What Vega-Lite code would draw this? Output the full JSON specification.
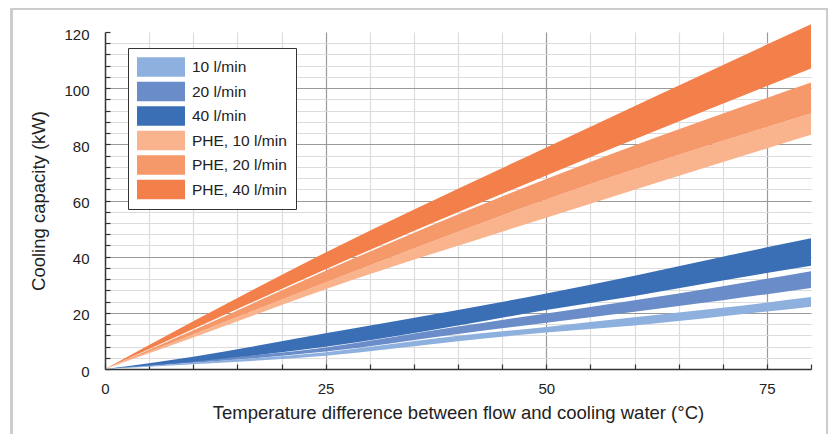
{
  "$schema": "https://vega.github.io/schema/vega-lite/v6.json",
  "width": 706,
  "height": 337,
  "autosize": "none",
  "padding": {"left": 105, "top": 32, "right": 22, "bottom": 65},
  "background": "white",
  "config": {
    "view": {"stroke": null},
    "font": "Liberation Sans",
    "axis": {
      "labelFont": "Liberation Sans",
      "titleFont": "Liberation Sans",
      "labelFontSize": 15,
      "titleFontSize": 18.5,
      "labelColor": "#222222",
      "titleColor": "#222222",
      "titleFontWeight": "normal",
      "domainColor": "#333333",
      "domainWidth": 1.5,
      "tickColor": "#333333",
      "tickWidth": 1.2,
      "tickSize": -5,
      "gridWidth": 1.2,
      "labelOverlap": false
    }
  },
  "data": {
    "values": [
      {"s": "10 l/min", "t": 0, "lo": 0, "hi": 0},
      {"s": "10 l/min", "t": 10, "lo": 1.7, "hi": 2.2},
      {"s": "10 l/min", "t": 25, "lo": 4.7, "hi": 6.0},
      {"s": "10 l/min", "t": 40, "lo": 9.9, "hi": 11.8},
      {"s": "10 l/min", "t": 50, "lo": 13.0, "hi": 15.0},
      {"s": "10 l/min", "t": 60, "lo": 15.5, "hi": 18.4},
      {"s": "10 l/min", "t": 70, "lo": 18.8, "hi": 21.8},
      {"s": "10 l/min", "t": 80, "lo": 22.2, "hi": 25.6},
      {"s": "20 l/min", "t": 0, "lo": 0, "hi": 0},
      {"s": "20 l/min", "t": 10, "lo": 2.2, "hi": 2.9},
      {"s": "20 l/min", "t": 25, "lo": 6.2, "hi": 7.7},
      {"s": "20 l/min", "t": 40, "lo": 12.5, "hi": 15.1},
      {"s": "20 l/min", "t": 50, "lo": 16.5, "hi": 19.8},
      {"s": "20 l/min", "t": 60, "lo": 20.4, "hi": 24.5},
      {"s": "20 l/min", "t": 70, "lo": 24.5, "hi": 29.5},
      {"s": "20 l/min", "t": 80, "lo": 28.8, "hi": 34.8},
      {"s": "40 l/min", "t": 0, "lo": 0, "hi": 0},
      {"s": "40 l/min", "t": 10, "lo": 2.6, "hi": 4.4},
      {"s": "40 l/min", "t": 25, "lo": 7.9, "hi": 12.7},
      {"s": "40 l/min", "t": 40, "lo": 15.5, "hi": 21.0},
      {"s": "40 l/min", "t": 50, "lo": 21.0, "hi": 26.9},
      {"s": "40 l/min", "t": 60, "lo": 26.0, "hi": 33.2},
      {"s": "40 l/min", "t": 70, "lo": 31.5, "hi": 40.0},
      {"s": "40 l/min", "t": 80, "lo": 36.8, "hi": 46.6},
      {"s": "PHE, 10 l/min", "t": 0, "lo": 0, "hi": 0},
      {"s": "PHE, 10 l/min", "t": 10, "lo": 11.2, "hi": 12.3},
      {"s": "PHE, 10 l/min", "t": 25, "lo": 28.4, "hi": 30.8},
      {"s": "PHE, 10 l/min", "t": 50, "lo": 53.9, "hi": 60.4},
      {"s": "PHE, 10 l/min", "t": 80, "lo": 83.4, "hi": 91.0},
      {"s": "PHE, 20 l/min", "t": 0, "lo": 0, "hi": 0},
      {"s": "PHE, 20 l/min", "t": 10, "lo": 12.3, "hi": 13.8},
      {"s": "PHE, 20 l/min", "t": 25, "lo": 30.8, "hi": 35.0},
      {"s": "PHE, 20 l/min", "t": 50, "lo": 60.4, "hi": 67.7},
      {"s": "PHE, 20 l/min", "t": 80, "lo": 91.0, "hi": 102.0},
      {"s": "PHE, 40 l/min", "t": 0, "lo": 0, "hi": 0},
      {"s": "PHE, 40 l/min", "t": 10, "lo": 14.2, "hi": 17.0},
      {"s": "PHE, 40 l/min", "t": 25, "lo": 35.5, "hi": 41.5},
      {"s": "PHE, 40 l/min", "t": 50, "lo": 68.9, "hi": 78.9},
      {"s": "PHE, 40 l/min", "t": 80, "lo": 107.0, "hi": 122.8}
    ]
  },
  "layer": [
    {
      "mark": {"type": "rect", "filled": false, "stroke": "#cccccc", "strokeWidth": 1.5, "clip": false},
      "encoding": {
        "x": {"datum": -10.6, "type": "quantitative"},
        "x2": {"datum": 81.8},
        "y": {"datum": 128.3, "type": "quantitative"},
        "y2": {"datum": -26}
      }
    },
    {
      "mark": {"type": "area", "interpolate": "monotone", "clip": false, "opacity": 1},
      "encoding": {
        "x": {
          "field": "t",
          "type": "quantitative",
          "scale": {"domain": [0, 80], "nice": false, "zero": false},
          "axis": {
            "values": [0, 5, 10, 15, 20, 25, 30, 35, 40, 45, 50, 55, 60, 65, 70, 75, 80],
            "tickCount": 40,
            "labelExpr": "datum.value % 25 === 0 ? datum.label : ''",
            "title": "Temperature difference between flow and cooling water (°C)",
            "grid": true,
            "gridColor": {"condition": [
              {"test": "datum.value === 80 || datum.value === 0", "value": "transparent"},
              {"test": "datum.value % 25 === 0", "value": "#9a9a9a"}
            ], "value": "#dcdcdc"},
            "labelPadding": 17,
            "titlePadding": 7,
            "labelFlush": false
          }
        },
        "y": {
          "field": "hi",
          "type": "quantitative",
          "scale": {"domain": [0, 120], "nice": false},
          "axis": {
            "values": [0, 4, 8, 12, 16, 20, 24, 28, 32, 36, 40, 44, 48, 52, 56, 60, 64, 68, 72, 76, 80, 84, 88, 92, 96, 100, 104, 108, 112, 116, 120],
            "tickCount": 40,
            "labelExpr": "datum.value % 20 === 0 ? datum.label : ''",
            "title": "Cooling capacity (kW)",
            "grid": true,
            "gridColor": {"condition": [
              {"test": "datum.value === 120 || datum.value === 0", "value": "transparent"},
              {"test": "datum.value % 20 === 0", "value": "#9a9a9a"}
            ], "value": "#dcdcdc"},
            "labelPadding": 21,
            "labelOffset": 2,
            "titlePadding": 15,
            "labelFlush": false
          }
        },
        "y2": {"field": "lo"},
        "color": {
          "field": "s",
          "type": "nominal",
          "scale": {
            "domain": ["10 l/min", "20 l/min", "40 l/min", "PHE, 10 l/min", "PHE, 20 l/min", "PHE, 40 l/min"],
            "range": ["#8db0de", "#6a8cc8", "#3a6fb6", "#f9b48e", "#f6996a", "#f3804b"]
          },
          "legend": {
            "title": null,
            "orient": "none",
            "legendX": 23,
            "legendY": 16,
            "symbolType": "M-2.4,-0.97H2.4V0.97H-2.4Z",
            "symbolSize": 400,
            "symbolStrokeWidth": 0,
            "symbolOpacity": 1,
            "symbolOffset": 14,
            "labelOffset": 21,
            "labelFontSize": 15.5,
            "labelFont": "Liberation Sans",
            "labelColor": "#222222",
            "rowPadding": 4.5,
            "padding": 9,
            "strokeColor": "#333333",
            "fillColor": "white",
            "cornerRadius": 0
          }
        }
      }
    }
  ]
}
